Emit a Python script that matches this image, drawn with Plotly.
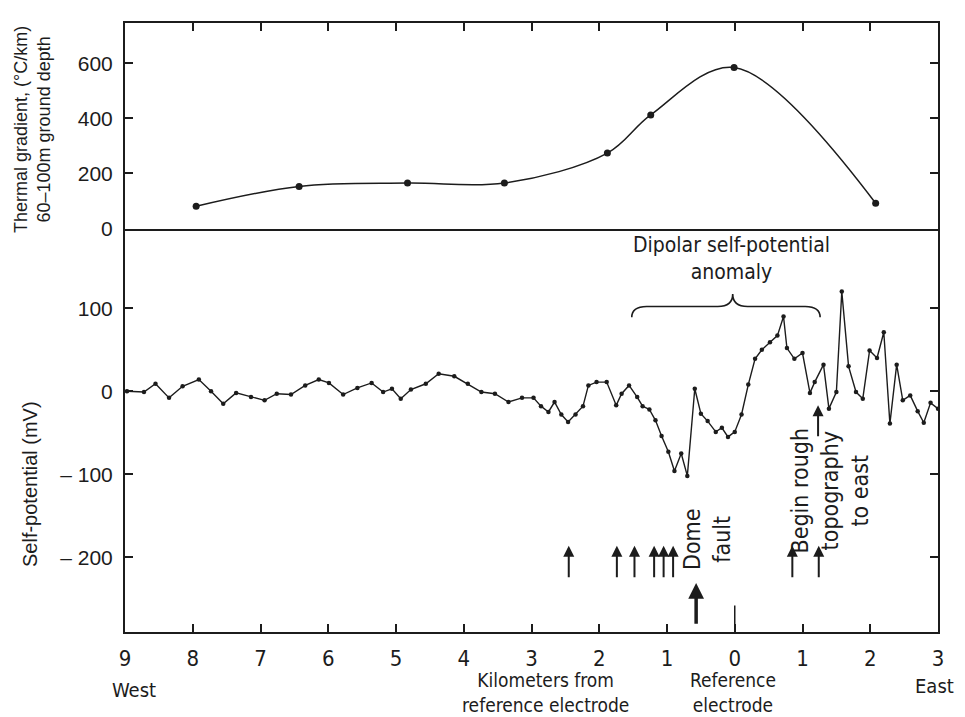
import plotly.graph_objects as go
from plotly.subplots import make_subplots

# ---------------- data ----------------
# x: kilometres from the reference electrode (west negative, east positive)
thermal_km = [-7.95, -6.43, -4.83, -3.40, -1.88, -1.24, -0.01, 2.08]
thermal_grad = [81, 153, 165, 165, 274, 413, 585, 92]

sp_km = [-8.97, -8.72, -8.55, -8.35, -8.15, -7.91, -7.73, -7.55, -7.36, -7.14,
         -6.94, -6.76, -6.55, -6.34, -6.14, -5.99, -5.78, -5.57, -5.36, -5.19,
         -5.06, -4.93, -4.78, -4.56, -4.37, -4.14, -3.94, -3.74, -3.54, -3.34,
         -3.14, -2.97, -2.86, -2.75, -2.66, -2.56, -2.46, -2.35, -2.24, -2.16,
         -2.04, -1.89, -1.75, -1.67, -1.56, -1.44, -1.36, -1.26, -1.17, -1.08,
         -0.98, -0.89, -0.79, -0.70, -0.59, -0.50, -0.40, -0.28, -0.19, -0.10,
         0.00, 0.10, 0.20, 0.30, 0.40, 0.52, 0.63, 0.72, 0.77, 0.88,
         1.00, 1.11, 1.18, 1.31, 1.39, 1.50, 1.58, 1.68, 1.79, 1.89,
         1.99, 2.10, 2.20, 2.29, 2.39, 2.48, 2.59, 2.70, 2.79, 2.89, 3.00]
sp_mv = [0, -1, 9, -8, 6, 14, 0, -15, -2, -7,
         -11, -3, -4, 7, 14, 10, -4, 4, 10, -1,
         3, -9, 2, 9, 21, 18, 9, -1, -3, -13,
         -8, -8, -18, -25, -13, -28, -37, -28, -18, 7,
         11, 11, -17, -3, 7, -7, -18, -22, -35, -54,
         -73, -96, -75, -102, 3, -27, -36, -49, -44, -55,
         -49, -28, 8, 39, 50, 59, 67, 90, 52, 39,
         46, -2, 11, 32, -21, -1, 120, 30, -1, -9,
         49, 40, 71, -39, 32, -11, -5, -24, -38, -14, -21]

x_tickvals = [-9, -8, -7, -6, -5, -4, -3, -2, -1, 0, 1, 2, 3]
x_ticktext = ["9", "8", "7", "6", "5", "4", "3", "2", "1", "0", "1", "2", "3"]
thermal_ticks = [0, 200, 400, 600]
sp_tickvals = [-200, -100, 0, 100]
sp_ticktext = ["\u2013 200", "\u2013 100", "0", "100"]

# small arrows along the profile (km) and the Dome-fault / rough-topography markers
small_arrow_km = [-2.45, -1.74, -1.48, -1.19, -1.05, -0.91, 0.85, 1.24]
dome_fault_km = -0.57
rough_topo_km = 1.23

# ---------------- figure ----------------
INK = "#1c1c1c"
NARROW = "Liberation Sans Narrow, DejaVu Sans Condensed, Arial Narrow, sans-serif"
SANS = "Liberation Sans, Arial, Helvetica, sans-serif"

BODY = 8                       # page body margin offsets the figure
W, H = 965 - BODY, 717 - BODY  # keep the page inside the window
PL, PR, PT, PB = 125, 938, 23, 632   # target plot box in screenshot pixels
ML, MT = PL - BODY, PT - BODY
MR = W - (PR - BODY)
MB = H - (PB - BODY)
PH = PB - PT
split = (PB - 228.5) / PH

fig = make_subplots(rows=2, cols=1, shared_xaxes=True, vertical_spacing=0,
                    row_heights=[1 - split, split])

fig.add_trace(go.Scatter(x=thermal_km, y=thermal_grad, mode="lines+markers",
                         line=dict(color=INK, width=1.5, shape="spline", smoothing=1.0),
                         marker=dict(color=INK, size=7), showlegend=False), row=1, col=1)
fig.add_trace(go.Scatter(x=sp_km, y=sp_mv, mode="lines+markers",
                         line=dict(color=INK, width=1.4),
                         marker=dict(color=INK, size=4.5), showlegend=False), row=2, col=1)

axis_common = dict(showline=True, linecolor=INK, linewidth=2,
                   showgrid=False, zeroline=False, ticks="inside", tickcolor=INK,
                   ticklen=8, tickwidth=1.5)

fig.update_xaxes(range=[-9, 3], tickvals=x_tickvals, **axis_common)
fig.update_xaxes(row=1, col=1, side="top", showticklabels=False, mirror=True)
fig.update_xaxes(row=2, col=1, ticktext=x_ticktext, showticklabels=True, mirror=False,
                 tickfont=dict(family=NARROW, size=22, color=INK), ticklabelstandoff=6)

fig.update_yaxes(row=1, col=1, range=[0, 747], tickvals=thermal_ticks, mirror="ticks",
                 tickfont=dict(family=SANS, size=21, color=INK), ticklabelstandoff=6,
                 **axis_common)
fig.update_yaxes(row=2, col=1, range=[-290, 196], tickvals=sp_tickvals, ticktext=sp_ticktext,
                 mirror="ticks", tickfont=dict(family=SANS, size=21, color=INK),
                 ticklabelstandoff=6, **axis_common)

def py(pix):
    return (PB - pix) / PH

def px(pix):
    return (pix - PL) / (PR - PL)

def note(text, x, y, size, family=NARROW, angle=0, xref="paper", yref="paper"):
    return dict(x=x, y=y, xref=xref, yref=yref, text=text, textangle=angle,
                showarrow=False, xanchor="center", yanchor="middle",
                font=dict(family=family, size=size, color=INK))

ann = []
# axis titles
ann.append(note("Thermal gradient, (\u00b0C/km)<br>60\u2013100m ground depth",
                px(32), py(130), 18, SANS, -90))
ann.append(note("Self-potential (mV)", px(30), py(484), 20, SANS, -90))
# bottom captions
ann.append(note("West", px(134), py(690), 20))
ann.append(note("Kilometers from<br>reference electrode", px(545), py(692), 19))
ann.append(note("Reference<br>electrode", px(733), py(692), 19))
ann.append(note("East", px(934), py(686), 20))
# anomaly label
ann.append(note("Dipolar self-potential<br>anomaly", -0.05, 160, 21, xref="x2", yref="y2"))
# rotated notes
ann.append(note("Dome<br>fault", -0.41, -178, 23, angle=-90, xref="x2", yref="y2"))
ann.append(note("Begin rough<br>topography<br>to east", 1.40, -120, 23, angle=-90,
                xref="x2", yref="y2"))
# arrows
for k in small_arrow_km:
    ann.append(dict(x=k, y=-186, ax=k, ay=-226, xref="x2", yref="y2", axref="x2", ayref="y2",
                    text="", showarrow=True, arrowhead=2, arrowsize=1.1, arrowwidth=2,
                    arrowcolor=INK))
ann.append(dict(x=dome_fault_km, y=-231, ax=dome_fault_km, ay=-282, xref="x2", yref="y2",
                axref="x2", ayref="y2", text="", showarrow=True, arrowhead=2,
                arrowsize=0.9, arrowwidth=3.5, arrowcolor=INK))
ann.append(dict(x=rough_topo_km, y=-17, ax=rough_topo_km, ay=-56, xref="x2", yref="y2",
                axref="x2", ayref="y2", text="", showarrow=True, arrowhead=2,
                arrowsize=1.1, arrowwidth=2, arrowcolor=INK))
fig.update_layout(annotations=ann)

# brace over the dipolar anomaly
x1, x2, xm = -1.52, 1.26, -0.03
y_end, y_line, y_tip = 89, 102, 117
d = 0.22
brace = (f"M {x1},{y_end} Q {x1},{y_line} {x1+d},{y_line} L {xm-d},{y_line} "
         f"Q {xm},{y_line} {xm},{y_tip} Q {xm},{y_line} {xm+d},{y_line} "
         f"L {x2-d},{y_line} Q {x2},{y_line} {x2},{y_end}")
fig.add_shape(type="path", path=brace, xref="x2", yref="y2",
              line=dict(color=INK, width=1.6))
# longer tick at the reference electrode
fig.add_shape(type="line", x0=0, x1=0, y0=-290, y1=-258, xref="x2", yref="y2",
              line=dict(color=INK, width=1.5))

fig.update_layout(width=W, height=H, margin=dict(l=ML, r=MR, t=MT, b=MB),
                  paper_bgcolor="white", plot_bgcolor="white", showlegend=False)

fig.write_html("out.html")
